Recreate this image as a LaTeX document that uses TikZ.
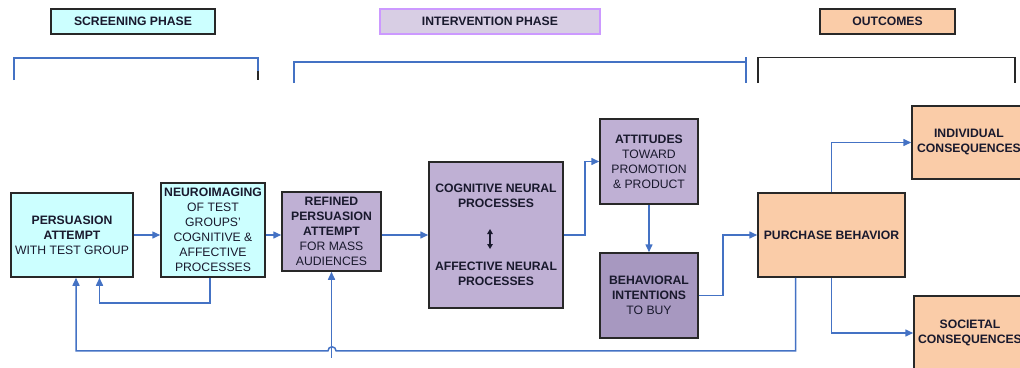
\documentclass[tikz,border=0pt]{standalone}
\usepackage{fontspec}
\setmainfont{Liberation Sans}
\usetikzlibrary{arrows.meta,calc}
\definecolor{cyanf}{RGB}{204,255,255}
\definecolor{purf}{RGB}{191,176,212}
\definecolor{purd}{RGB}{167,152,192}
\definecolor{lavf}{RGB}{216,206,228}
\definecolor{lavb}{RGB}{204,153,255}
\definecolor{peach}{RGB}{250,204,168}
\definecolor{linkblue}{RGB}{68,114,196}
\definecolor{txt}{RGB}{25,25,45}
\definecolor{edgegray}{RGB}{40,40,40}
\begin{document}
\begin{tikzpicture}[x=1pt,y=-1pt,
 box/.style={draw=edgegray,line width=1.5pt,inner sep=0pt,align=center,text=txt,font=\fontsize{12.2}{15}\selectfont},
 lbl/.style={box,minimum height=25pt},
 arr/.style={linkblue,line width=1.5pt,-{Triangle[length=8pt,width=7pt]}},
 ln/.style={linkblue,line width=1.5pt},
 blk/.style={edgegray,line width=1.6pt},
 dbl/.style={txt,line width=1.3pt,{Triangle[length=5pt,width=5.5pt]}-{Triangle[length=5pt,width=5.5pt]}}]
\useasboundingbox (0,0) rectangle (1020,367);
\clip (0,0) rectangle (1020,367);

% phase labels
\node[lbl,fill=cyanf,minimum width=164pt] (scr) at (133,21.5) {\textbf{SCREENING PHASE}};
\node[lbl,fill=lavf,draw=lavb,minimum width=220pt] (int) at (490,21.5) {\textbf{INTERVENTION PHASE}};
\node[lbl,fill=peach,minimum width=135pt] (out) at (887.5,21.5) {\textbf{OUTCOMES}};

% brackets
\draw[ln] (14,80) -- (14,58) -- (258,58) -- (258,71);
\draw[blk] (258,71) -- (258,80);
\draw[ln] (294,83) -- (294,62) -- (746,62);
\draw[ln] (746,57) -- (746,83);
\draw[blk] (758,83) -- (758,57.5) -- (1015,57.5) -- (1015,83);

% boxes
\node[box,fill=cyanf,minimum width=122pt,minimum height=84pt] (pers) at (72,235)
  {\textbf{PERSUASION}\\\textbf{ATTEMPT}\\WITH TEST GROUP};
\node[box,fill=cyanf,minimum width=104pt,minimum height=94pt] (neuro) at (213,230)
  {\textbf{NEUROIMAGING}\\OF TEST\\GROUPS'\\COGNITIVE \&\\AFFECTIVE\\PROCESSES};
\node[box,fill=purf,minimum width=99pt,minimum height=79pt] (refined) at (331.5,231.5)
  {\textbf{REFINED}\\\textbf{PERSUASION}\\\textbf{ATTEMPT}\\FOR MASS\\AUDIENCES};
\node[box,fill=purf,minimum width=134pt,minimum height=146pt] (cog) at (496,235)
  {\textbf{COGNITIVE NEURAL}\\\textbf{PROCESSES}\\[48pt]\textbf{AFFECTIVE NEURAL}\\\textbf{PROCESSES}};
\node[box,fill=purf,minimum width=98pt,minimum height=85pt] (att) at (649,161.5)
  {\textbf{ATTITUDES}\\TOWARD\\PROMOTION\\\& PRODUCT};
\node[box,fill=purd,minimum width=98pt,minimum height=85pt] (beh) at (649,295.5)
  {\textbf{BEHAVIORAL}\\\textbf{INTENTIONS}\\TO BUY};
\node[box,fill=peach,minimum width=147pt,minimum height=84pt] (purch) at (831.5,235)
  {\textbf{PURCHASE BEHAVIOR}};
\node[box,fill=peach,minimum width=114pt,minimum height=73pt] (indiv) at (969,142.5)
  {\textbf{INDIVIDUAL}\\\textbf{CONSEQUENCES}};
\node[box,fill=peach,minimum width=112pt,minimum height=74pt] (soc) at (970,333)
  {\textbf{SOCIETAL}\\\textbf{CONSEQUENCES}};

% double arrow inside cognitive box
\coordinate (da1) at ($(cog.center)+(-6,-6)$);
\coordinate (da2) at ($(cog.center)+(-6,14)$);
\draw[dbl] (da1) -- (da2);

% connectors
\draw[arr] (pers.east) -- (neuro.west |- pers.east);
\draw[arr] (neuro.east |- pers.east) -- (refined.west |- pers.east);
\draw[arr] (refined.east |- cog.west) -- (cog.west);
\draw[arr] (cog.east) -- ++(21,0) |- (att.west);
\draw[arr] (att.south) -- (beh.north);
\draw[arr] (beh.east) -- ++(24,0) |- (purch.west);
\draw[arr] (purch.north) |- (indiv.west);
\draw[arr] (purch.south) |- (soc.west);
\draw[arr] ([xshift=-3pt]neuro.south) -- ++(0,25) -| ([xshift=27.5pt]pers.south);
\coordinate (hop) at ($(refined.south)+(4.5,79)$);
\draw[arr] ([xshift=-36pt]purch.south) -- ++(0,73) -- (hop)
  arc[start angle=0,end angle=-180,radius=4] -| ([xshift=4pt]pers.south);
\coordinate (rb) at ($(refined.south)+(0,86)$);
\draw[arr] (rb) -- (refined.south);
\end{tikzpicture}
\end{document}
